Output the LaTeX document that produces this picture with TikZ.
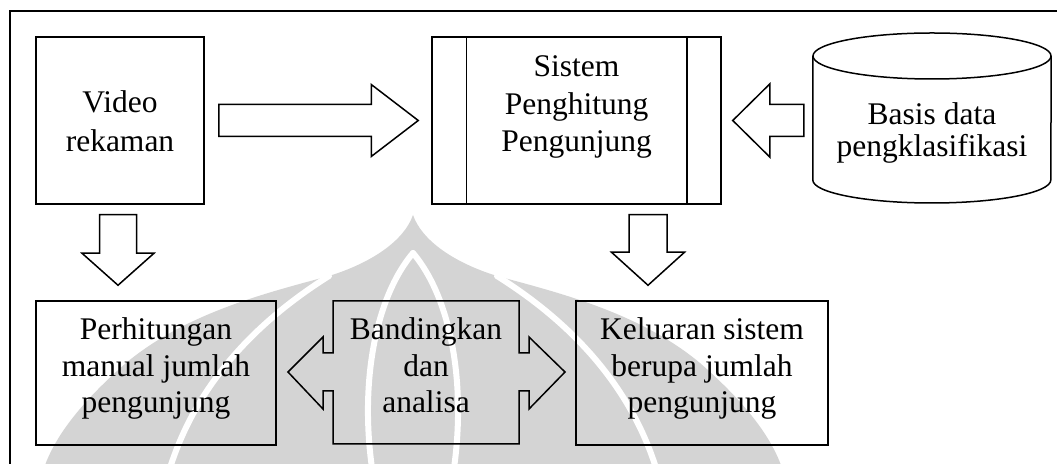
\documentclass[tikz,border=0pt]{standalone}
\usepackage{fontspec}
\setmainfont{Liberation Serif}
\usetikzlibrary{calc}

% block arrow: tail coordinate, tip coordinate, shaft half width, head half width, head length
\newcommand\blockarrow[5]{%
  \coordinate (ba-h) at ($(#2)!#5!(#1)$);
  \draw[arrowline] ($(#1)!#3!90:(#2)$) -- ($(ba-h)!#3!90:(#2)$)
    -- ($(ba-h)!#4!90:(#2)$) -- (#2) -- ($(ba-h)!#4!-90:(#2)$)
    -- ($(ba-h)!#3!-90:(#2)$) -- ($(#1)!#3!-90:(#2)$) -- cycle;%
}

\begin{document}
\begin{tikzpicture}[x=1pt,y=1pt,
  line/.style={line width=1.5pt, black},
  boxshape/.style={draw, line, rectangle, inner sep=0pt},
  arrowline/.style={line, line join=miter},
  txt/.style={anchor=base, inner sep=0pt},
  emblem/.style={fill=black!17},
  emblemgap/.style={draw=white, line width=6pt, line cap=round}
]
\useasboundingbox (0,0) rectangle (1057,463);

% faint emblem in the background
\fill[emblem] (413,248)
  .. controls (422,222) and (455,200) .. (497,187)
  .. controls (560,170) and (640,150) .. (700,100)
  .. controls (740,65) and (770,30) .. (782,-5)
  -- (44,-5)
  .. controls (56,30) and (86,65) .. (126,100)
  .. controls (186,150) and (266,170) .. (329,187)
  .. controls (371,200) and (404,222) .. (413,248) -- cycle;
\draw[emblemgap] (329,187) .. controls (270,150) and (200,90) .. (170,-5);
\draw[emblemgap] (497,187) .. controls (556,150) and (626,90) .. (656,-5);
\draw[emblemgap] (413,210) .. controls (375,165) and (360,80) .. (372,-5);
\draw[emblemgap] (413,210) .. controls (451,165) and (466,80) .. (454,-5);

% outer frame
\draw[line] (10,-5) -- (10,452) -- (1065,452);

% boxes
\node[boxshape, minimum width=168, minimum height=167] (video) at (120,342.5) {};
\node[txt, font=\fontsize{31.5}{38.4}\selectfont] (videoT) at (120,350)
  {\begin{tabular}[t]{@{}c@{}}Video\\rekaman\end{tabular}};

\node[boxshape, minimum width=289, minimum height=167] (sys) at (576.5,342.5) {};
\draw[line] ($(sys.north west)+(35,0)$) -- ($(sys.south west)+(35,0)$);
\draw[line] ($(sys.north east)+(-35,0)$) -- ($(sys.south east)+(-35,0)$);
\node[txt, font=\fontsize{31.5}{37.2}\selectfont] (sysT) at (576.5,386)
  {\begin{tabular}[t]{@{}c@{}}Sistem\\Penghitung\\Pengunjung\end{tabular}};

% database cylinder
\node[inner sep=0pt, minimum width=238, minimum height=170] (db) at (932,345) {};
\draw[line] (db.west |- 0,407) -- (db.west |- 0,283)
  arc[start angle=180, end angle=360, x radius=119, y radius=23]
  -- (db.east |- 0,407);
\draw[line] (932,407) ellipse[x radius=119, y radius=23];
\node[txt, font=\fontsize{31.5}{29.5}\selectfont] (dbT) at (932,338)
  {\begin{tabular}[t]{@{}c@{}}Basis data\\pengklasifikasi\end{tabular}};

\node[boxshape, minimum width=240, minimum height=144] (perh) at (156,90) {};
\node[txt, font=\fontsize{31.5}{36.2}\selectfont] (perhT) at (156,123)
  {\begin{tabular}[t]{@{}c@{}}Perhitungan\\manual jumlah\\pengunjung\end{tabular}};

\node[boxshape, minimum width=252, minimum height=144] (kel) at (702,90) {};
\node[txt, font=\fontsize{31.5}{36.2}\selectfont] (kelT) at (702,123)
  {\begin{tabular}[t]{@{}c@{}}Keluaran sistem\\berupa jumlah\\pengunjung\end{tabular}};

% compare callout with arrows both ways
\node[inner sep=0pt, minimum width=186, minimum height=143] (cmp) at (426,90.5) {};
\draw[arrowline, shift={(cmp.center)}]
  (-93,71.5) -- (93,71.5) -- (93,19.5) -- (103,19.5) -- (103,35.5) -- (139,0.5)
  -- (103,-36.5) -- (103,-18.5) -- (93,-18.5) -- (93,-71.5) -- (-93,-71.5)
  -- (-93,-18.5) -- (-103,-18.5) -- (-103,-36.5) -- (-138,0.5) -- (-103,35.5)
  -- (-103,19.5) -- (-93,19.5) -- cycle;
\node[txt, font=\fontsize{31.5}{36.5}\selectfont] (cmpT) at (426,123)
  {\begin{tabular}[t]{@{}c@{}}Bandingkan\\dan\\analisa\end{tabular}};

% block arrows between the boxes
\coordinate (a1s) at ($(video.east)+(14,0)$);
\coordinate (a1e) at ($(sys.west)+(-13,0)$);
\blockarrow{a1s}{a1e}{16pt}{36pt}{47pt}

\coordinate (a2s) at ($(db.west |- sys.west)+(-9,0)$);
\coordinate (a2e) at ($(sys.east)+(11,0)$);
\blockarrow{a2s}{a2e}{16pt}{36.5pt}{37pt}

\coordinate (a3s) at ($(video.south)+(-2,-10)$);
\coordinate (a3e) at ($(perh.north)+(-38,15)$);
\blockarrow{a3s}{a3e}{18.5pt}{36pt}{32pt}

\coordinate (a4s) at ($(sys.south)+(71.5,-10)$);
\coordinate (a4e) at ($(kel.north)+(-54,15)$);
\blockarrow{a4s}{a4e}{19pt}{36.5pt}{33pt}
\end{tikzpicture}
\end{document}
